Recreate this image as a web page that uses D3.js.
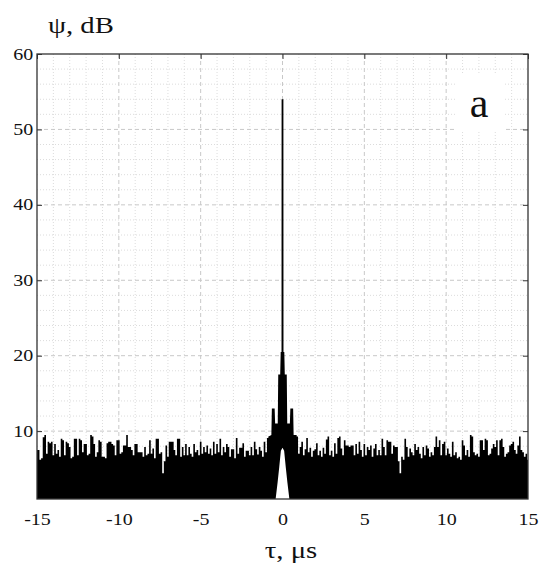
<!DOCTYPE html>
<html>
<head>
<meta charset="utf-8">
<script src="https://cdn.jsdelivr.net/npm/d3@7"></script>
<style>
  body { margin: 0; background: #fff; }
</style>
</head>
<body>
<svg id="chart"></svg>
<script>
const WIDTH = 545;
const HEIGHT = 566;
const margin = {top: 54, right: 17, bottom: 67, left: 37};
const SERIF = '"Liberation Serif", "Times New Roman", serif';
const STRETCH = 1.25;   // the scan's lettering is a bit wide

const width = WIDTH - margin.left - margin.right;
const height = HEIGHT - margin.top - margin.bottom;

// tick labels
const xTicks = [-15, -10, -5, 0, 5, 10, 15];
const yTicks = [10, 20, 30, 40, 50, 60];

// noise floor, one value per 0.1 us
const leftStart = -15.0;   // -15.0 .. -0.8
const noiseLeft = [
  7.5, 7.5, 6.2, 6.4, 9.2, 9.5, 7.0, 8.6, 8.4, 8.6,
  6.8, 8.3, 7.0, 7.5, 6.6, 9.0, 8.8, 6.8, 8.6, 8.4,
  7.9, 6.4, 6.6, 9.0, 9.0, 6.8, 9.0, 8.8, 7.2, 8.3,
  8.3, 6.8, 7.0, 9.5, 9.3, 8.3, 6.6, 7.2, 8.8, 8.6,
  6.6, 6.6, 6.4, 8.4, 8.6, 8.6, 8.3, 8.1, 6.8, 8.8,
  8.8, 7.0, 7.2, 8.1, 8.1, 9.5, 7.9, 7.9, 7.5, 6.8,
  8.3, 8.3, 7.2, 7.2, 7.2, 6.6, 7.9, 6.8, 7.0, 8.8,
  7.0, 7.7, 6.4, 9.0, 9.0, 7.0, 7.2, 4.4, 6.0, 8.1,
  6.6, 8.6, 8.6, 8.6, 7.5, 6.8, 9.0, 9.0, 6.6, 7.9,
  6.8, 8.3, 6.8, 7.9, 7.0, 6.6, 8.3, 7.2, 7.5, 6.8,
  8.6, 7.0, 7.9, 7.2, 8.1, 7.0, 7.7, 6.8, 8.6, 7.0,
  8.3, 7.2, 9.0, 6.8, 7.9, 7.2, 8.3, 7.9, 6.6, 7.6,
  7.6, 6.4, 9.1, 7.0, 7.8, 7.8, 8.4, 6.6, 7.4, 7.4,
  6.8, 7.9, 6.8, 8.6, 7.6, 6.9, 7.9, 7.4, 6.6, 8.6,
  7.2, 9.1, 9.3
];

const rightStart = 0.8;    // 0.8 .. 15.0
const noiseRight = [
  9.5, 9.3, 7.0, 7.9, 8.6, 6.8, 7.6, 9.1, 7.2, 7.8,
  6.6, 7.4, 7.6, 8.4, 6.8, 7.4, 6.6, 7.8, 7.0, 8.9,
  9.3, 6.8, 7.4, 6.6, 8.4, 7.0, 9.1, 9.3, 7.7, 6.8,
  8.8, 8.1, 8.1, 7.9, 8.1, 8.1, 6.8, 8.3, 7.0, 8.6,
  7.5, 6.6, 8.3, 6.8, 7.9, 7.5, 8.1, 6.6, 7.7, 8.3,
  6.8, 7.5, 6.8, 9.0, 7.9, 6.8, 8.8, 8.6, 8.6, 7.0,
  8.1, 7.9, 7.9, 6.0, 4.4, 6.6, 6.2, 9.0, 7.9, 6.6,
  7.7, 7.2, 6.8, 8.3, 7.5, 7.9, 7.0, 6.4, 7.9, 6.8,
  8.1, 7.7, 6.6, 7.2, 6.8, 7.9, 9.3, 7.9, 8.8, 6.8,
  8.3, 8.6, 6.8, 7.7, 7.0, 6.6, 8.6, 6.8, 7.2, 6.4,
  6.6, 6.2, 8.8, 8.1, 6.8, 7.5, 6.6, 9.5, 9.3, 7.2,
  6.8, 7.0, 6.6, 8.8, 8.8, 7.5, 9.0, 8.8, 6.8, 7.0,
  7.7, 8.3, 7.9, 8.8, 6.8, 8.8, 9.0, 7.9, 6.6, 7.0,
  7.2, 8.1, 8.3, 8.6, 7.5, 7.0, 8.1, 9.3, 7.5, 7.2,
  6.6, 7.0, 6.2
];

// main lobe around zero
const coreT      = [-0.85, -0.68, -0.65, -0.48, -0.45, -0.29, -0.26, -0.14, -0.11, -0.06, -0.055, 0.055, 0.06, 0.11, 0.14, 0.26, 0.29, 0.45, 0.48, 0.65, 0.68, 0.85];
const coreTop    = [9.3, 9.5, 13.0, 13.0, 11.0, 11.0, 17.5, 17.5, 20.5, 20.5, 54.0, 54.0, 20.5, 20.5, 17.5, 17.5, 11.0, 11.0, 13.0, 13.0, 9.5, 9.5];
const floorT     = [-0.42, -0.3, -0.2, -0.1, 0, 0.1, 0.2, 0.3, 0.42];
const floorLevel = [1.0, 3.2, 5.2, 7.4, 7.8, 7.4, 5.2, 3.2, 1.0];

const svg = d3.select('#chart')
  .attr('width', WIDTH)
  .attr('height', HEIGHT);

const x = d3.scaleLinear().domain([-15, 15]).range([margin.left, margin.left + width]);
const y = d3.scaleLinear().domain([1, 60]).range([margin.top + height, margin.top]);

// grid
const grid = svg.append('g');
grid.selectAll('.vminor').data(d3.range(-14, 15, 1).filter(d => d % 5 !== 0)).enter()
  .append('line')
  .attr('x1', d => x(d)).attr('x2', d => x(d))
  .attr('y1', y(60)).attr('y2', y(1))
  .attr('stroke', '#dcdcdc').attr('stroke-dasharray', '1,2');
grid.selectAll('.hminor').data(d3.range(2, 60, 2).filter(d => d % 10 !== 0)).enter()
  .append('line')
  .attr('x1', x(-15)).attr('x2', x(15))
  .attr('y1', d => y(d)).attr('y2', d => y(d))
  .attr('stroke', '#dcdcdc').attr('stroke-dasharray', '1,2');
grid.selectAll('.vmajor').data(xTicks.slice(1, -1)).enter()
  .append('line')
  .attr('x1', d => x(d)).attr('x2', d => x(d))
  .attr('y1', y(60)).attr('y2', y(1))
  .attr('stroke', '#c8c8c8').attr('stroke-dasharray', '4,3');
grid.selectAll('.hmajor').data(yTicks.slice(0, -1)).enter()
  .append('line')
  .attr('x1', x(-15)).attr('x2', x(15))
  .attr('y1', d => y(d)).attr('y2', d => y(d))
  .attr('stroke', '#c8c8c8').attr('stroke-dasharray', '4,3');

// white box behind the panel letter
svg.append('rect')
  .attr('x', 455).attr('y', 75)
  .attr('width', 50).attr('height', 55)
  .attr('fill', '#fff');

// signal
const plot = svg.append('g');

const stepArea = d3.area()
  .x(d => x(d.t))
  .y0(y(1))
  .y1(d => y(d.v))
  .curve(d3.curveStep);

const leftPts = noiseLeft.map((v, i) => ({t: leftStart + i * 0.1, v}));
const rightPts = noiseRight.map((v, i) => ({t: rightStart + i * 0.1, v}));

plot.append('path').datum(leftPts).attr('d', stepArea).attr('fill', '#000');
plot.append('path').datum(rightPts).attr('d', stepArea).attr('fill', '#000');

const corePts = coreT.map((t, i) => ({t, v: coreTop[i]}));
plot.append('path').datum(corePts)
  .attr('d', d3.area().x(d => x(d.t)).y0(y(1)).y1(d => y(d.v)))
  .attr('fill', '#000');

// hole under the main lobe
const floorPts = floorT.map((t, i) => ({t, v: floorLevel[i]}));
plot.append('path').datum(floorPts)
  .attr('d', d3.area().x(d => x(d.t)).y0(y(1)).y1(d => y(d.v)))
  .attr('fill', '#fff');

// frame + ticks
svg.append('rect')
  .attr('x', x(-15)).attr('y', y(60))
  .attr('width', x(15) - x(-15)).attr('height', y(1) - y(60))
  .attr('fill', 'none').attr('stroke', '#333').attr('stroke-width', 1.3);

const axisStyle = g => {
  g.attr('font-family', null).attr('font-size', null);
  g.select('.domain').remove();
  g.selectAll('.tick line').attr('stroke', '#333');
  g.selectAll('.tick text')
    .style('font-family', SERIF)
    .style('font-size', '16px')
    .attr('fill', '#111')
    .attr('transform', `scale(${STRETCH},1)`);
};

svg.append('g')
  .attr('transform', `translate(${x(-15)},0)`)
  .call(d3.axisLeft(y).tickValues(yTicks).tickSizeInner(-5).tickSizeOuter(0).tickPadding(3))
  .call(axisStyle);
svg.append('g')
  .attr('transform', `translate(${x(15)},0)`)
  .call(d3.axisRight(y).tickValues(yTicks).tickSizeInner(-5).tickSizeOuter(0).tickFormat(''))
  .call(axisStyle);
svg.append('g')
  .attr('transform', `translate(0,${y(60)})`)
  .call(d3.axisTop(x).tickValues(xTicks).tickSizeInner(-5).tickSizeOuter(0).tickFormat(''))
  .call(axisStyle);
svg.append('g')
  .attr('transform', `translate(0,${y(1)})`)
  .call(d3.axisBottom(x).tickValues(xTicks).tickSizeInner(0).tickSizeOuter(0).tickPadding(15)
    .tickFormat(d => String(d)))
  .call(axisStyle);

// labels
const label = (tx, ty, size, anchor, txt, sx) => svg.append('text')
  .attr('transform', `translate(${tx},${ty}) scale(${sx},1)`)
  .attr('text-anchor', anchor)
  .style('font-family', SERIF)
  .style('font-size', size)
  .attr('fill', '#111')
  .text(txt);

label(48, 33, '23px', 'start', 'ψ, dB', STRETCH);
label(291, 558, '23px', 'middle', 'τ, μs', STRETCH);
label(479, 117, '42px', 'middle', 'a', 1);
</script>
</body>
</html>
